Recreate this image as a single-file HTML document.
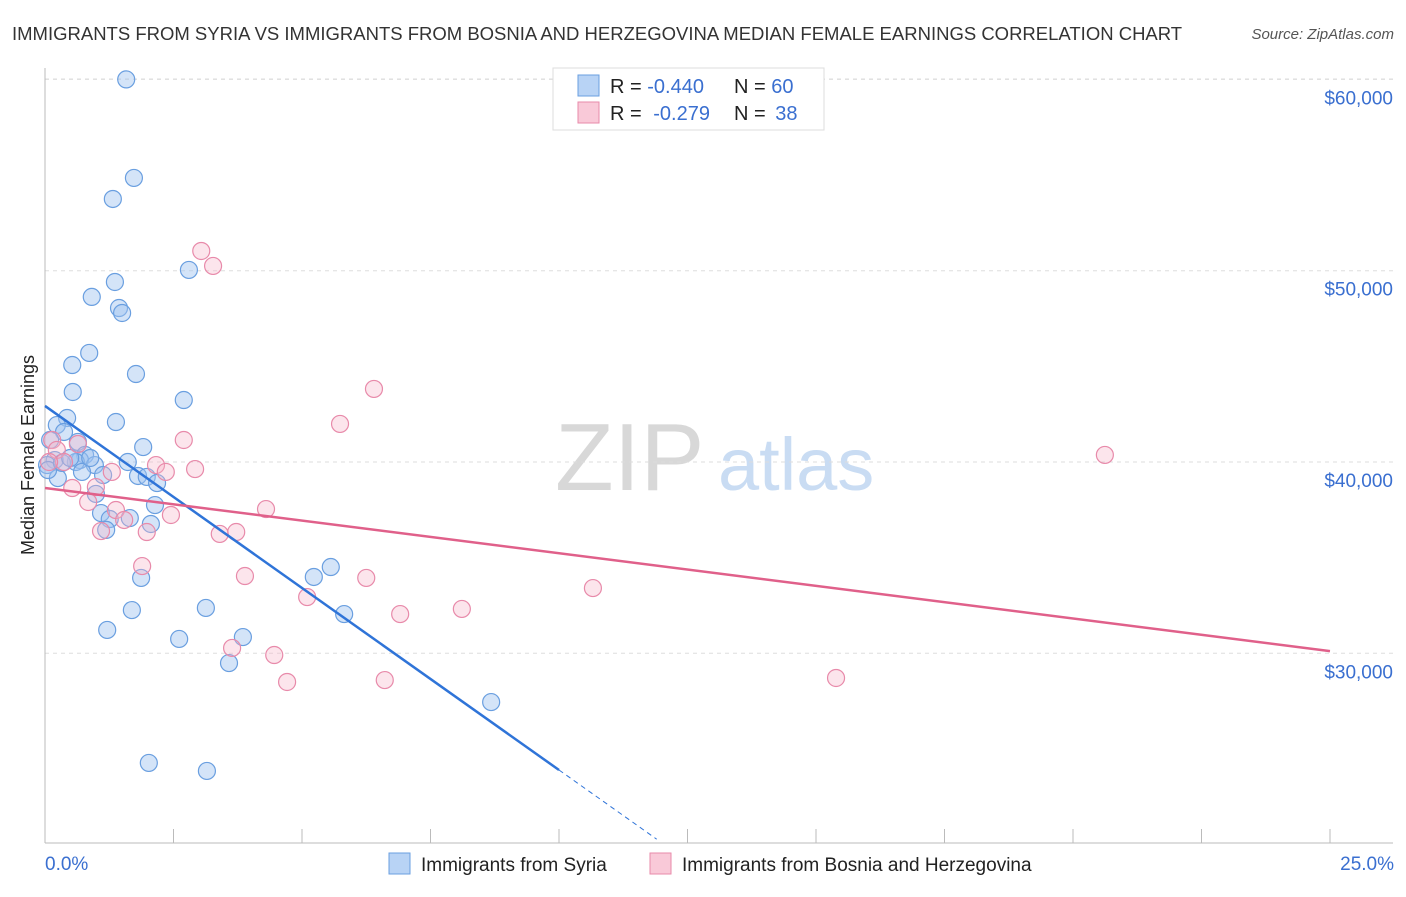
<!DOCTYPE html>
<html><head><meta charset="utf-8">
<style>
body{margin:0;background:#fff;font-family:"Liberation Sans",sans-serif;}
svg text{font-family:"Liberation Sans",sans-serif;}
</style></head>
<body>
<svg id="chart" width="1406" height="892" xmlns="http://www.w3.org/2000/svg">
<text x="12" y="40" font-size="18.5" fill="#333">IMMIGRANTS FROM SYRIA VS IMMIGRANTS FROM BOSNIA AND HERZEGOVINA MEDIAN FEMALE EARNINGS CORRELATION CHART</text>
<text x="1394" y="39" font-size="15" fill="#555" font-style="italic" text-anchor="end">Source: ZipAtlas.com</text>
<g>
<text x="555" y="490" font-size="96" fill="#d8d8d8" font-family="Liberation Serif">ZIP</text>
<text x="718" y="490" font-size="74" fill="#c9dcf3">atlas</text>
</g>
<g id="grid"></g>
<g id="axes"></g>
<g id="points"></g>
<g id="trends"></g>
<g>
<rect x="553" y="68" width="271" height="62" fill="#fff" stroke="#ddd"/>
<rect x="578" y="75" width="21" height="21" fill="#b8d3f5" stroke="#6a9fe0"/>
<rect x="578" y="102" width="21" height="21" fill="#f9c9d8" stroke="#e88aaa"/>
<text x="610" y="93" font-size="20" fill="#222">R = <tspan fill="#3a6fd0">-0.440</tspan></text>
<text x="734" y="93" font-size="20" fill="#222">N = <tspan fill="#3a6fd0">60</tspan></text>
<text x="610" y="120" font-size="20" fill="#222">R = <tspan fill="#3a6fd0" dx="6">-0.279</tspan></text>
<text x="734" y="120" font-size="20" fill="#222">N = <tspan fill="#3a6fd0" dx="4">38</tspan></text>
</g>
<text transform="translate(34,455) rotate(-90)" font-size="18" fill="#222" text-anchor="middle">Median Female Earnings</text>
<text x="45" y="870" font-size="19" fill="#3a6fd0">0.0%</text>
<text x="1394" y="870" font-size="19" fill="#3a6fd0" text-anchor="end">25.0%</text>
<g>
<rect x="389" y="853" width="21" height="21" fill="#b8d3f5" stroke="#6a9fe0"/>
<text x="421" y="871" font-size="19" fill="#222">Immigrants from Syria</text>
<rect x="650" y="853" width="21" height="21" fill="#f9c9d8" stroke="#e88aaa"/>
<text x="682" y="871" font-size="19" fill="#222">Immigrants from Bosnia and Herzegovina</text>
</g>
</svg>
<script>
const yTicks=[30000,40000,50000,60000];
const yTickLabels=["$30,000","$40,000","$50,000","$60,000"];
const xTicks=[0,2.5,5,7.5,10,12.5,15,17.5,20,22.5,25];
const syriaX=[1.58,1.73,1.32,2.80,0.91,1.36,1.44,1.50,0.86,0.53,1.77,0.54,2.70,0.43,1.38,0.23,0.37,0.64,1.91,0.10,0.19,0.04,0.78,0.68,0.60,0.97,1.13,1.61,1.81,1.98,0.72,0.25,2.18,0.99,2.14,1.09,1.65,1.26,2.06,1.19,1.87,5.23,5.56,1.69,3.13,5.82,1.21,2.61,3.85,3.58,8.68,2.02,3.15,0.06,0.33,0.88,0.49];
const syriaY=[60000,54850,53750,50040,48630,49410,48050,47790,45700,45070,44600,43660,43240,42300,42090,41930,41570,41050,40780,41150,40100,39840,40370,40100,40000,39840,39320,40000,39270,39220,39480,39160,38900,38330,37750,37330,37070,37020,36760,36450,33940,33990,34510,32260,32370,32050,31220,30750,30850,29490,27450,24270,23850,39580,39950,40210,40210];
const bosniaX=[3.04,3.27,6.40,5.74,20.62,2.70,0.14,0.64,0.23,0.37,2.16,2.35,2.92,1.30,0.53,0.99,0.84,1.38,2.45,4.30,1.09,1.54,1.98,3.40,3.72,1.89,3.89,6.25,5.10,6.91,8.11,10.66,3.64,4.46,4.71,6.61,15.39,0.08];
const bosniaY=[51030,50250,43820,41990,40370,41150,41150,40940,40630,40000,39840,39480,39630,39480,38640,38690,37910,37490,37230,37540,36390,36970,36340,36240,36340,34560,34040,33940,32940,32050,32320,33410,30280,29910,28500,28600,28710,40000];
const syriaTrend=[42930,-1903]; // intercept, slope per %
const bosniaTrend=[38640,-341];
const X=p=>45+p*51.4;
const Y=v=>462-(v-40000)*0.01913;
const NS="http://www.w3.org/2000/svg";
function mk(tag,attrs,parent){const e=document.createElementNS(NS,tag);for(const k in attrs)e.setAttribute(k,attrs[k]);parent.appendChild(e);return e;}
const grid=document.getElementById('grid'),axes=document.getElementById('axes'),pts=document.getElementById('points'),tr=document.getElementById('trends');
yTicks.forEach((v,i)=>{
 const l=mk('line',{x1:45,x2:1393,y1:Y(v),y2:Y(v),stroke:'#ddd','stroke-dasharray':'4,4'},grid);
 
 
 const t=mk('text',{x:1393,y:Y(v)+25,'font-size':19,fill:'#3a6fd0','text-anchor':'end'},axes);
 t.textContent=yTickLabels[i];
 
 
});
const g0=mk('line',{x1:45,x2:1393,y1:79,y2:79,stroke:'#ddd','stroke-dasharray':'4,4'},grid);


const ya=mk('line',{x1:45,x2:45,y1:68,y2:843,stroke:'#bbb'},axes);


const xa=mk('line',{x1:45,x2:1393,y1:843,y2:843,stroke:'#bbb'},axes);


xTicks.forEach(p=>{
 const t=mk('line',{x1:X(p),x2:X(p),y1:829,y2:843,stroke:'#bbb'},axes);
 
 
});
syriaX.forEach((x,i)=>{
 const c=mk('circle',{cx:X(x),cy:Y(syriaY[i]),r:8.5,fill:'rgba(160,196,240,0.45)',stroke:'#6a9fe0','stroke-width':1.2},pts);
 
 
});
bosniaX.forEach((x,i)=>{
 const c=mk('circle',{cx:X(x),cy:Y(bosniaY[i]),r:8.5,fill:'rgba(245,180,200,0.35)',stroke:'#e88aaa','stroke-width':1.2},pts);
 
 
});
const f=(t,p)=>t[0]+t[1]*p;
const l1=mk('line',{x1:X(0),y1:Y(f(syriaTrend,0)),x2:X(10),y2:Y(f(syriaTrend,10)),stroke:'#2f74d8','stroke-width':2.5},tr);


const l1d=mk('line',{x1:X(10),y1:Y(f(syriaTrend,10)),x2:X(11.9),y2:Y(f(syriaTrend,11.9)),stroke:'#2f74d8','stroke-width':1,'stroke-dasharray':'5,4'},tr);


const l2=mk('line',{x1:X(0),y1:Y(f(bosniaTrend,0)),x2:X(25),y2:Y(f(bosniaTrend,25)),stroke:'#e0608a','stroke-width':2.5},tr);


</script>
</body></html>
